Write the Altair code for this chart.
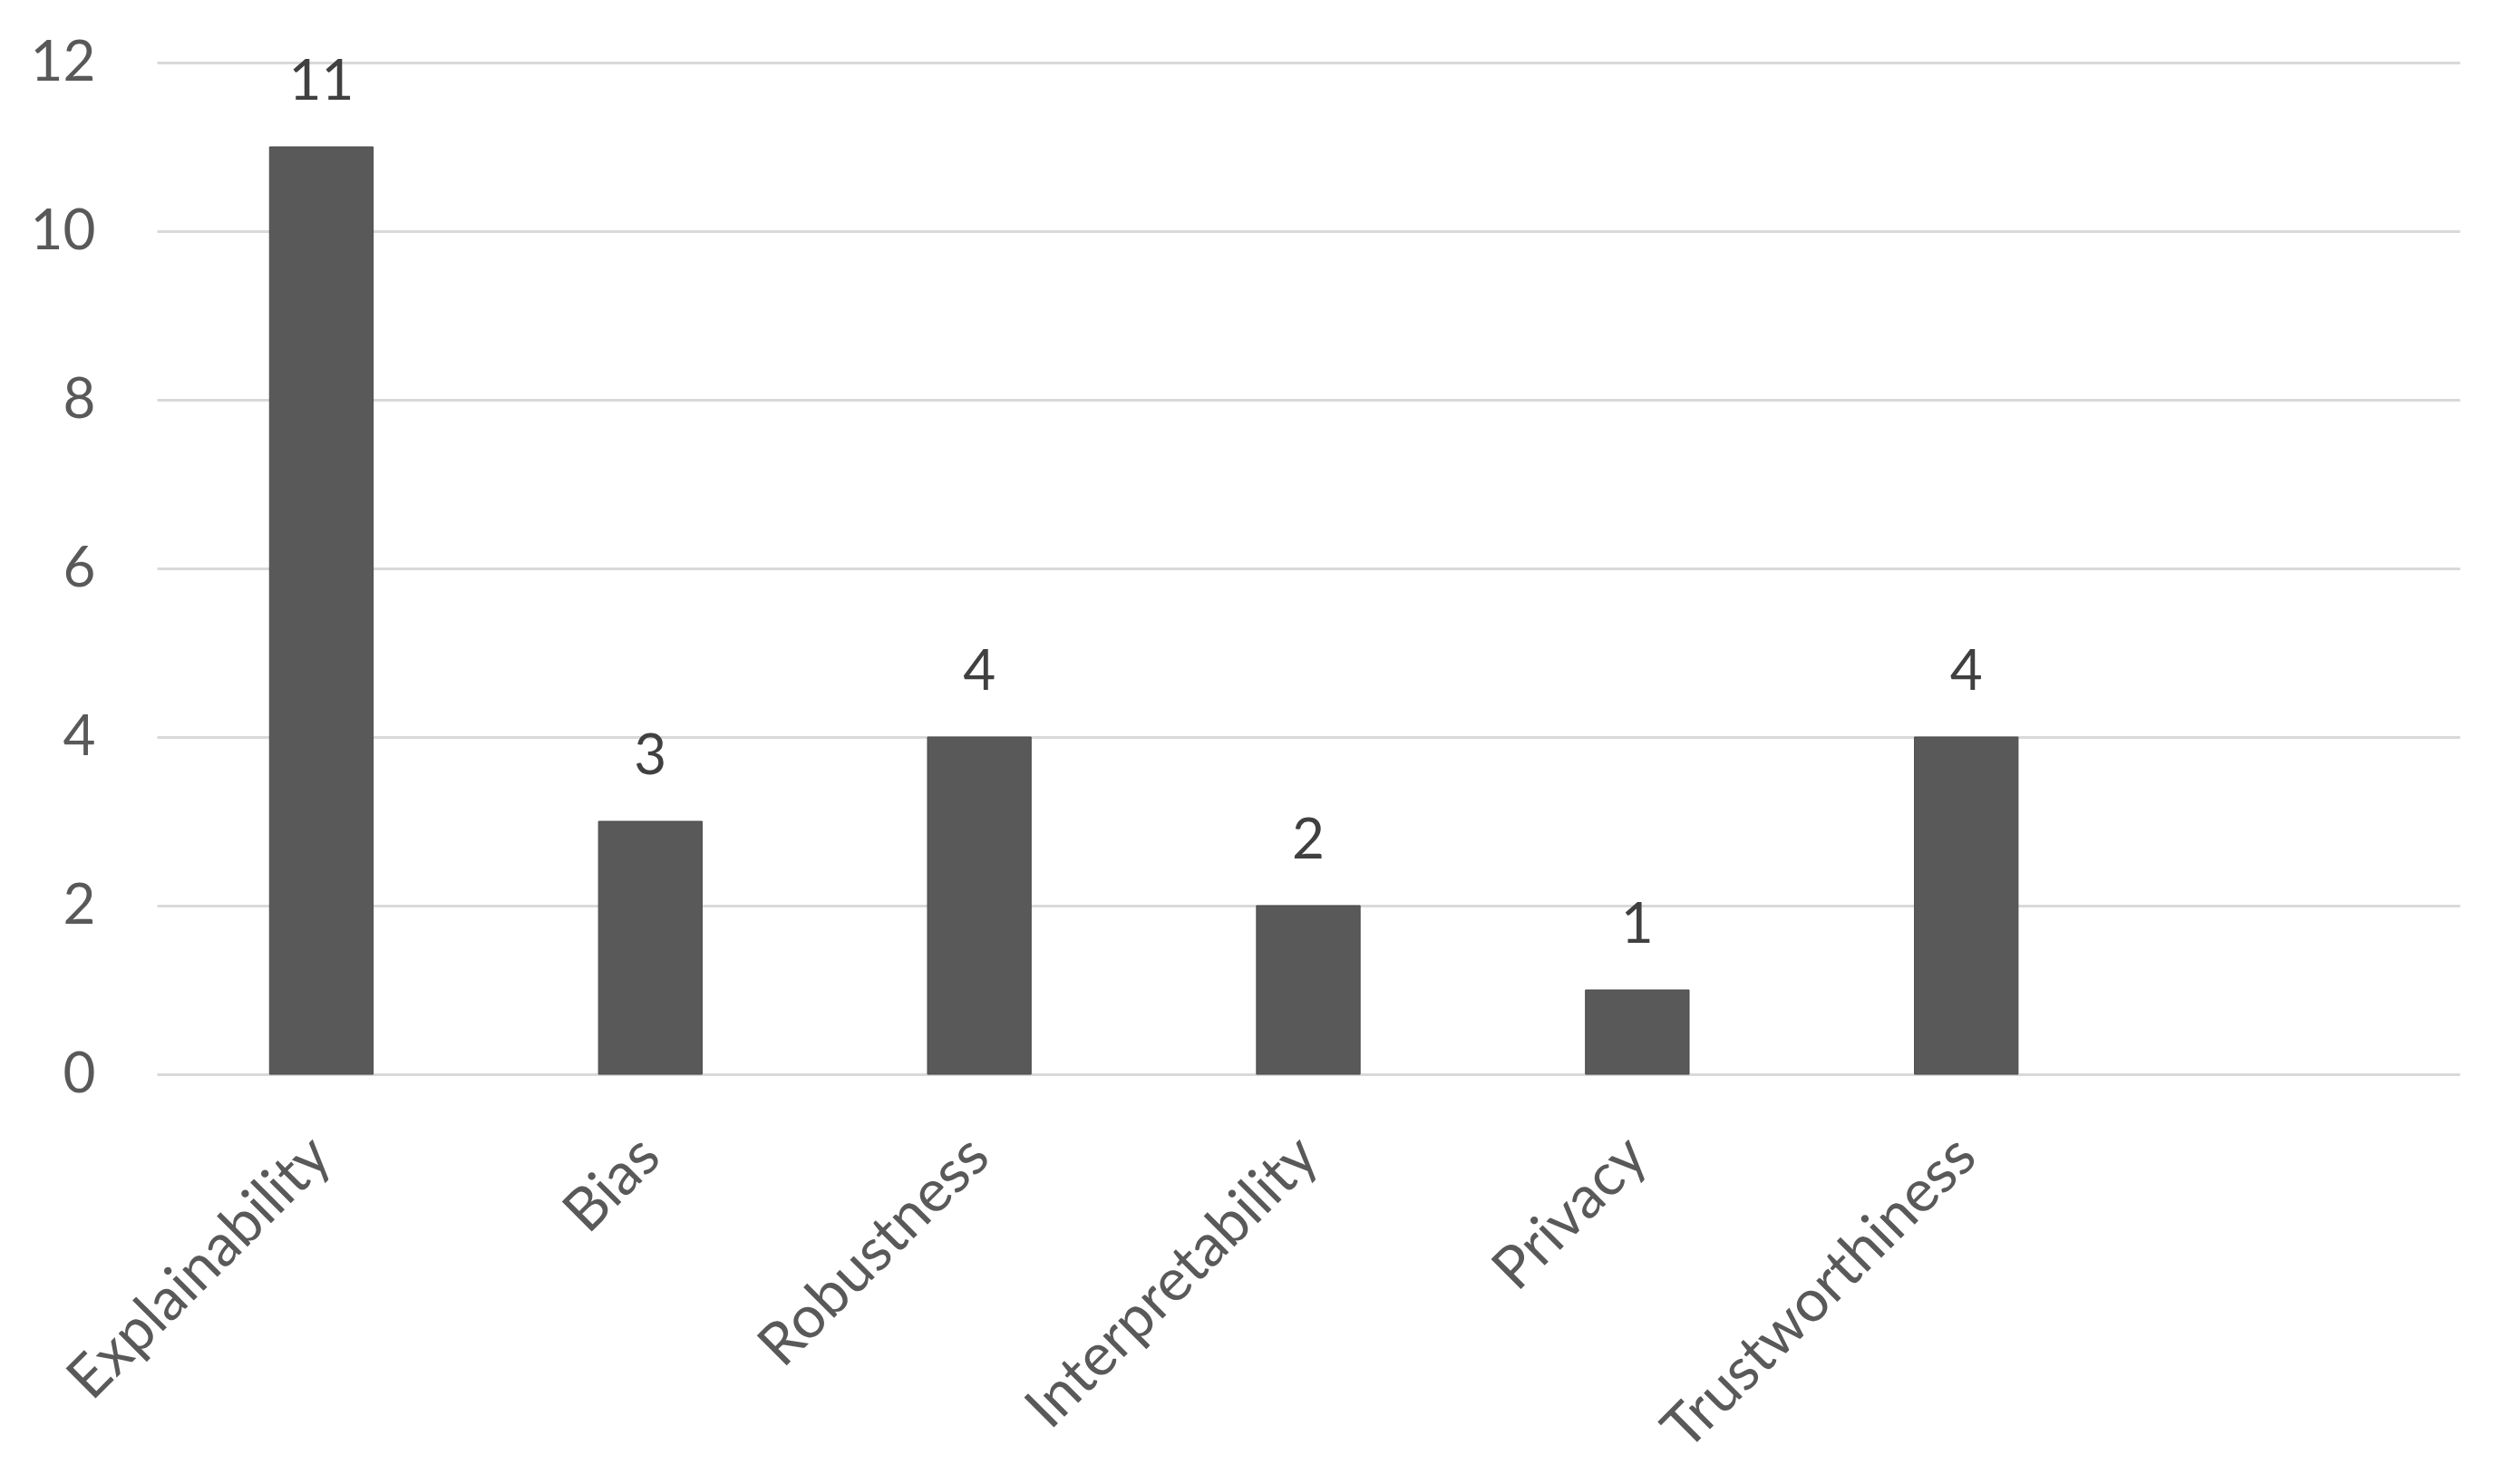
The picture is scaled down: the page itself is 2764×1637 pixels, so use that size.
import altair as alt
import pandas as pd

categories = ["Explainability", "Bias", "Robustness", "Interpretability", "Privacy", "Trustworthiness"]
counts = [11, 3, 4, 2, 1, 4]
domain = categories + [""]
y_ticks = [0, 2, 4, 6, 8, 10, 12]

df = pd.DataFrame({"cat": categories, "n": counts})

FONT = "Lato"

x_enc = alt.X(
    "cat:N",
    sort=domain,
    scale=alt.Scale(domain=domain, paddingInner=0.685, paddingOuter=0.3425),
    axis=alt.Axis(
        title=None, labelAngle=-45, labelAlign="right", labelBaseline="middle",
        labelPadding=80, labelFontSize=65, labelFont=FONT, labelColor="#595959",
        ticks=False, domain=False, grid=False, labelLimit=1000,
    ),
)
y_enc = alt.Y(
    "n:Q",
    scale=alt.Scale(domain=[0, 12], nice=False),
    axis=alt.Axis(
        title=None, values=y_ticks, format="d", labelFontSize=62, labelFont=FONT,
        labelColor="#595959", labelPadding=68, ticks=False, domain=False, grid=True,
        gridColor="#d9d9d9", gridWidth=3,
    ),
)

bars = alt.Chart(df).mark_bar(color="#595959", stroke="#4a4a4a", strokeWidth=1).encode(x=x_enc, y=y_enc)
labels = alt.Chart(df).mark_text(
    font=FONT, fontSize=62, color="#404040", baseline="alphabetic", dy=-52
).encode(
    x=alt.X("cat:N", sort=domain),
    y=alt.Y("n:Q"),
    text="n:Q",
)

chart = (
    alt.layer(bars, labels)
    .properties(
        width=2540, height=1116,
        autosize=alt.AutoSizeParams(type="none"),
        padding={"left": 165, "top": 61, "right": 43, "bottom": 430},
        view=alt.ViewBackground(stroke="transparent", strokeWidth=0),
    )
    .configure_view(stroke="transparent", strokeWidth=0)
    .configure(background="white")
)

chart.save("out.html", embed_options={"renderer": "svg", "actions": False})
